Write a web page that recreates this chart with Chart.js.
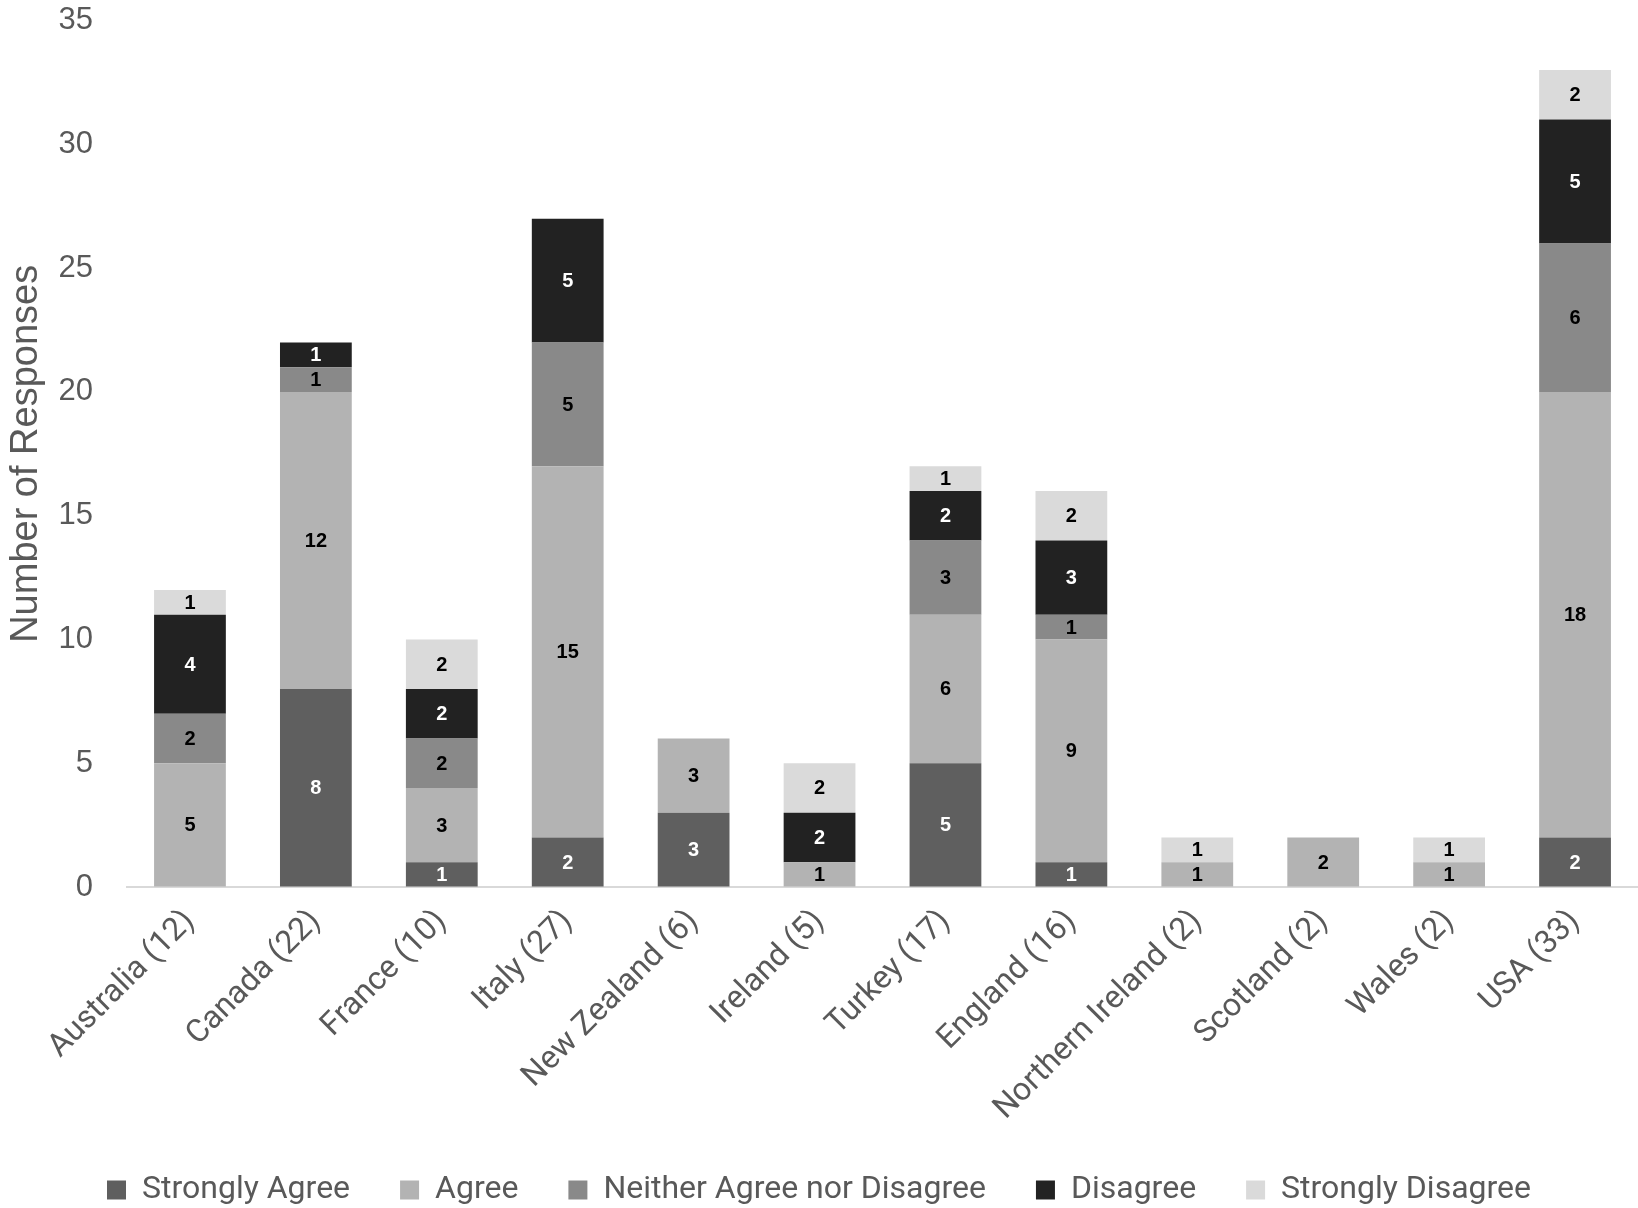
<!DOCTYPE html>
<html>
<head>
<meta charset="utf-8">
<script src="https://cdn.jsdelivr.net/npm/chart.js@4"></script>
<style>
  html, body { margin: 0; padding: 0; background: #fff; }
  #wrap { width: 1638px; height: 1208px; }
</style>
</head>
<body>
<div id="wrap"><canvas id="chart"></canvas></div>
<script>
const countries = ['Australia (12)', 'Canada (22)', 'France (10)', 'Italy (27)', 'New Zealand (6)', 'Ireland (5)',
    'Turkey (17)', 'England (16)', 'Northern Ireland (2)', 'Scotland (2)', 'Wales (2)', 'USA (33)'];

const stronglyAgree    = [0, 8, 1, 2, 3, 0, 5, 1, 0, 0, 0, 2];
const agree            = [5, 12, 3, 15, 3, 1, 6, 9, 1, 2, 1, 18];
const neither          = [2, 1, 2, 5, 0, 0, 3, 1, 0, 0, 0, 6];
const disagree         = [4, 1, 2, 5, 0, 2, 2, 3, 0, 0, 0, 5];
const stronglyDisagree = [1, 0, 2, 0, 0, 2, 1, 2, 1, 0, 1, 2];

const yTicks = [0, 5, 10, 15, 20, 25, 30, 35];

const textGrey = '#595959';

function series(label, data, color, labelColor) {
    return { label: label, data: data, backgroundColor: color, labelColor: labelColor,
             borderWidth: 0, barPercentage: 0.57, categoryPercentage: 1 };
}

// prints each segment's count in the middle of the segment
const segmentLabels = {
    id: 'segmentLabels',
    afterDatasetsDraw(chart) {
        const ctx = chart.ctx;
        ctx.save();
        ctx.font = 'bold 20px "Liberation Sans", Arial, sans-serif';
        ctx.textAlign = 'center';
        ctx.textBaseline = 'middle';
        chart.data.datasets.forEach((ds, i) => {
            chart.getDatasetMeta(i).data.forEach((bar, j) => {
                const v = ds.data[j];
                if (!v) return;
                ctx.fillStyle = ds.labelColor;
                ctx.fillText(v, bar.x, (bar.y + bar.base) / 2 + 1);
            });
        });
        ctx.restore();
    }
};

new Chart(document.getElementById('chart'), {
    type: 'bar',
    data: {
        labels: countries,
        datasets: [
            series('Strongly Agree', stronglyAgree, '#5f5f5f', '#ffffff'),
            series('Agree', agree, '#b3b3b3', '#000000'),
            series('Neither Agree nor Disagree', neither, '#898989', '#000000'),
            series('Disagree', disagree, '#222222', '#ffffff'),
            series('Strongly Disagree', stronglyDisagree, '#dadada', '#000000')
        ]
    },
    options: {
        responsive: true,
        maintainAspectRatio: false,
        animation: false,
        layout: { padding: { top: 0, right: 0, left: 0, bottom: -8 } },
        plugins: {
            tooltip: { enabled: false },
            legend: {
                position: 'bottom',
                labels: {
                    color: textGrey,
                    font: { family: 'Roboto, "Noto Sans", sans-serif', size: 32 },
                    boxWidth: 19,
                    boxHeight: 19,
                    padding: 50
                }
            }
        },
        scales: {
            x: {
                stacked: true,
                grid: { display: false, drawTicks: false },
                border: { display: true, color: '#d9d9d9', width: 2 },
                ticks: {
                    color: textGrey,
                    font: { family: 'Roboto, "Noto Sans", sans-serif', size: 32 },
                    maxRotation: 45,
                    minRotation: 45,
                    autoSkip: false,
                    padding: 16
                },
                afterFit(scale) { scale.height = 237; }
            },
            y: {
                stacked: true,
                min: 0,
                max: 35,
                // invisible tick marks push the labels away from the plot
                grid: { display: true, drawOnChartArea: false, drawTicks: true, tickLength: 32, tickColor: 'rgba(0,0,0,0)' },
                border: { display: false },
                afterBuildTicks(scale) { scale.ticks = yTicks.map(v => ({ value: v })); },
                ticks: {
                    color: textGrey,
                    font: { family: '"Liberation Sans", Arial, sans-serif', size: 31 },
                    padding: 2
                },
                title: {
                    display: true,
                    text: 'Number of Responses',
                    color: textGrey,
                    font: { family: '"Liberation Sans", Arial, sans-serif', size: 38 },
                    padding: { top: 4, bottom: 4 }
                },
                afterFit(scale) { scale.width = 127; }
            }
        }
    },
    plugins: [segmentLabels]
});
</script>
</body>
</html>
